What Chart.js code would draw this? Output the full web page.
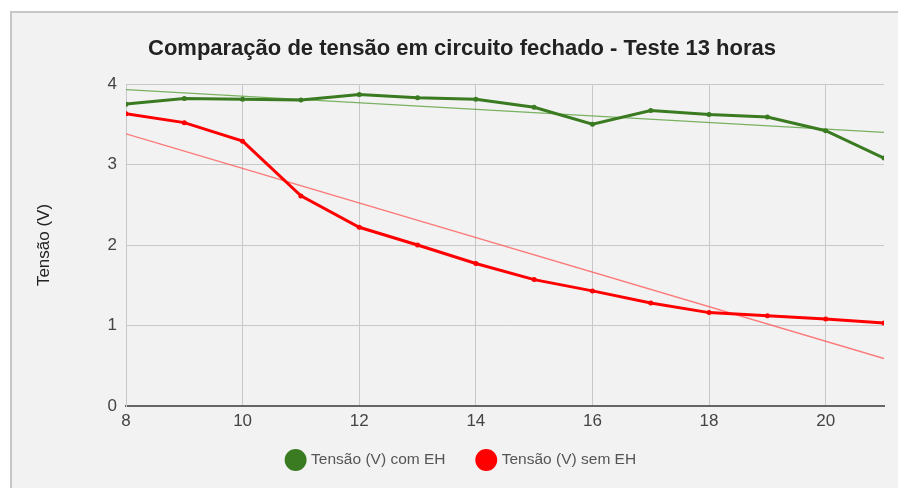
<!DOCTYPE html>
<html>
<head>
<meta charset="utf-8">
<script src="https://cdn.jsdelivr.net/npm/chart.js@4.4.1/dist/chart.umd.min.js"></script>
<style>
    html, body { margin: 0; padding: 0; background: #fff; }
    #frame { position: absolute; left: 10px; top: 11px; width: 888px; height: 477px; background: #f2f2f2;
             border-top: 2px solid #c6c6c6; border-left: 2px solid #c6c6c6; box-sizing: border-box; }
    #wrap { position: absolute; left: 0; top: 0; width: 898px; height: 488px; }
</style>
</head>
<body>
<div id="frame"></div>
<div id="wrap"><canvas id="chart" width="898" height="488"></canvas></div>
<script>
    // hours of the test (x axis)
    var hours = [8, 9, 10, 11, 12, 13, 14, 15, 16, 17, 18, 19, 20, 21];
    // voltage with energy harvesting
    var tensaoComEH = [3.75, 3.82, 3.81, 3.80, 3.87, 3.83, 3.81, 3.71, 3.50, 3.67, 3.62, 3.59, 3.42, 3.08];
    // voltage without energy harvesting
    var tensaoSemEH = [3.63, 3.52, 3.29, 2.61, 2.22, 2.00, 1.77, 1.57, 1.43, 1.28, 1.16, 1.12, 1.08, 1.03];
    // trend lines, read at both ends
    var trendHours = [8, 21];
    var trendComEH = [3.93, 3.40];
    var trendSemEH = [3.38, 0.59];

    var labelsSeries = ['Tensão (V) com EH', 'Tensão (V) sem EH'];
    var green = '#3a7a21';
    var red = '#ff0000';

    function toPoints(xs, ys) {
        return xs.map((x, i) => ({x: x, y: ys[i]}));
    }

    Chart.defaults.font.family = "'Liberation Sans', Arial, sans-serif";

    // legend needs wide item spacing, so lift it back up under the axis
    const legendShift = {
        id: 'legendShift',
        afterLayout(c) {
            c.legend.top -= 12.75;
            c.legend.bottom -= 12.75;
        }
    };

    const ctx = document.getElementById('chart');
    var chart = new Chart(ctx, {
        type: 'line',
        data: {
            datasets: [{
                label: labelsSeries[0],
                data: toPoints(hours, tensaoComEH),
                borderColor: green,
                backgroundColor: green,
                pointBackgroundColor: green,
                borderWidth: 3,
                pointRadius: 2.5,
                pointBorderWidth: 0
            }, {
                label: labelsSeries[1],
                data: toPoints(hours, tensaoSemEH),
                borderColor: red,
                backgroundColor: red,
                pointBackgroundColor: red,
                borderWidth: 3,
                pointRadius: 2.5,
                pointBorderWidth: 0
            }, {
                label: 'trend com EH',
                data: toPoints(trendHours, trendComEH),
                borderColor: 'rgba(90,160,60,0.8)',
                borderWidth: 1.3,
                pointRadius: 0
            }, {
                label: 'trend sem EH',
                data: toPoints(trendHours, trendSemEH),
                borderColor: 'rgba(255,80,80,0.75)',
                borderWidth: 1.3,
                pointRadius: 0
            }]
        },
        plugins: [legendShift],
        options: {
            responsive: false,
            animation: false,
            layout: { padding: { left: 40, right: 14, top: 0, bottom: -2.5 } },
            plugins: {
                title: {
                    display: true,
                    text: 'Comparação de tensão em circuito fechado - Teste 13 horas',
                    color: '#222',
                    font: { size: 22, weight: 'bold' },
                    padding: { top: 35.6, bottom: 22 }
                },
                legend: {
                    position: 'bottom',
                    labels: {
                        usePointStyle: true,
                        pointStyle: 'circle',
                        color: '#555',
                        font: { size: 15.5 },
                        padding: 33,
                        generateLabels: function (c) {
                            return Chart.defaults.plugins.legend.labels.generateLabels(c)
                                .filter(l => l.datasetIndex < 2)
                                .map(l => { l.lineWidth = 0; return l; });
                        }
                    }
                },
                tooltip: { enabled: false }
            },
            scales: {
                x: {
                    type: 'linear',
                    min: 8,
                    max: 21,
                    afterFit: s => { s.height = 26; },
                    ticks: { stepSize: 2, includeBounds: false, color: '#444', font: { size: 17 }, padding: 5 },
                    grid: { color: '#c8c8c8', drawTicks: false },
                    border: { color: '#666', width: 2 }
                },
                y: {
                    min: 0,
                    max: 4,
                    afterFit: s => { s.width = 86; },
                    ticks: { stepSize: 1, color: '#444', font: { size: 17 }, padding: 9 },
                    grid: { color: '#c8c8c8', drawTicks: false },
                    border: { color: '#c8c8c8' },
                    title: {
                        display: true,
                        text: 'Tensão (V)',
                        color: '#222',
                        font: { size: 17 },
                        padding: { top: -6, bottom: 0 }
                    }
                }
            }
        }
    });
</script>
</body>
</html>
